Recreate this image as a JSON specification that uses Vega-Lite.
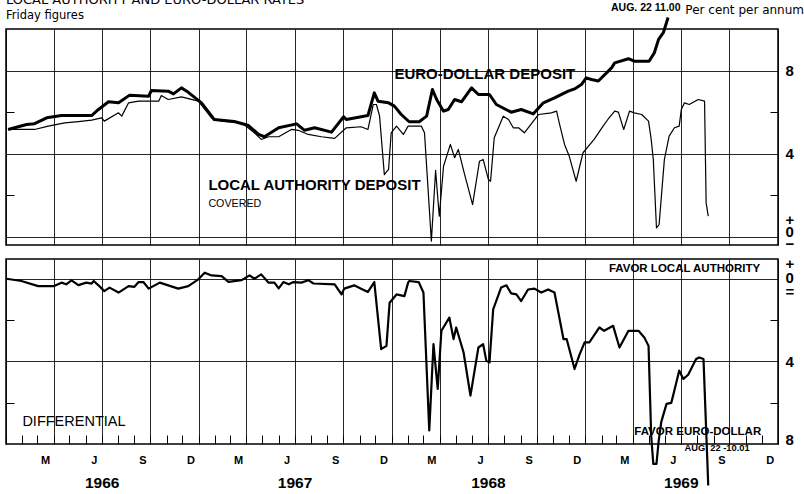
{
  "$schema": "https://vega.github.io/schema/vega-lite/v6.json",
  "background": "white",
  "padding": {"left": 4, "top": -8, "right": 2, "bottom": 0},
  "config": {
    "view": {"stroke": "black", "strokeWidth": 1.5},
    "font": "Liberation Sans",
    "axis": {"labelColor": "black", "tickColor": "black", "gridColor": "black", "domainColor": "black", "titleColor": "black", "gridWidth": 1, "tickWidth": 1},
    "text": {"color": "black"}
  },
  "datasets": {
    "rates": [
      {"date": "1966-01-05", "series": "Euro-dollar deposit", "rate": 5.17},
      {"date": "1966-02-09", "series": "Euro-dollar deposit", "rate": 5.41},
      {"date": "1966-02-24", "series": "Euro-dollar deposit", "rate": 5.45},
      {"date": "1966-03-19", "series": "Euro-dollar deposit", "rate": 5.73},
      {"date": "1966-04-16", "series": "Euro-dollar deposit", "rate": 5.84},
      {"date": "1966-05-18", "series": "Euro-dollar deposit", "rate": 5.84},
      {"date": "1966-06-12", "series": "Euro-dollar deposit", "rate": 5.84},
      {"date": "1966-06-25", "series": "Euro-dollar deposit", "rate": 6.13},
      {"date": "1966-07-14", "series": "Euro-dollar deposit", "rate": 6.5},
      {"date": "1966-08-02", "series": "Euro-dollar deposit", "rate": 6.45},
      {"date": "1966-08-23", "series": "Euro-dollar deposit", "rate": 6.82},
      {"date": "1966-09-28", "series": "Euro-dollar deposit", "rate": 6.77},
      {"date": "1966-10-03", "series": "Euro-dollar deposit", "rate": 7.04},
      {"date": "1966-11-04", "series": "Euro-dollar deposit", "rate": 7.01},
      {"date": "1966-11-14", "series": "Euro-dollar deposit", "rate": 6.88},
      {"date": "1966-11-29", "series": "Euro-dollar deposit", "rate": 7.17},
      {"date": "1966-12-09", "series": "Euro-dollar deposit", "rate": 7.01},
      {"date": "1967-01-06", "series": "Euro-dollar deposit", "rate": 6.45},
      {"date": "1967-01-30", "series": "Euro-dollar deposit", "rate": 5.65},
      {"date": "1967-03-09", "series": "Euro-dollar deposit", "rate": 5.55},
      {"date": "1967-04-05", "series": "Euro-dollar deposit", "rate": 5.36},
      {"date": "1967-04-24", "series": "Euro-dollar deposit", "rate": 4.93},
      {"date": "1967-05-05", "series": "Euro-dollar deposit", "rate": 4.82},
      {"date": "1967-06-01", "series": "Euro-dollar deposit", "rate": 5.25},
      {"date": "1967-07-05", "series": "Euro-dollar deposit", "rate": 5.44},
      {"date": "1967-07-20", "series": "Euro-dollar deposit", "rate": 5.13},
      {"date": "1967-08-08", "series": "Euro-dollar deposit", "rate": 5.25},
      {"date": "1967-09-09", "series": "Euro-dollar deposit", "rate": 5.04},
      {"date": "1967-10-02", "series": "Euro-dollar deposit", "rate": 5.78},
      {"date": "1967-10-07", "series": "Euro-dollar deposit", "rate": 5.65},
      {"date": "1967-11-17", "series": "Euro-dollar deposit", "rate": 5.84},
      {"date": "1967-11-29", "series": "Euro-dollar deposit", "rate": 6.93},
      {"date": "1967-12-06", "series": "Euro-dollar deposit", "rate": 6.53},
      {"date": "1967-12-26", "series": "Euro-dollar deposit", "rate": 6.45},
      {"date": "1968-01-06", "series": "Euro-dollar deposit", "rate": 6.29},
      {"date": "1968-01-19", "series": "Euro-dollar deposit", "rate": 5.89},
      {"date": "1968-02-03", "series": "Euro-dollar deposit", "rate": 5.54},
      {"date": "1968-02-22", "series": "Euro-dollar deposit", "rate": 5.54},
      {"date": "1968-03-07", "series": "Euro-dollar deposit", "rate": 5.81},
      {"date": "1968-03-18", "series": "Euro-dollar deposit", "rate": 7.09},
      {"date": "1968-03-26", "series": "Euro-dollar deposit", "rate": 6.61},
      {"date": "1968-04-08", "series": "Euro-dollar deposit", "rate": 6.05},
      {"date": "1968-04-17", "series": "Euro-dollar deposit", "rate": 6.13},
      {"date": "1968-04-29", "series": "Euro-dollar deposit", "rate": 6.61},
      {"date": "1968-05-12", "series": "Euro-dollar deposit", "rate": 6.5},
      {"date": "1968-05-31", "series": "Euro-dollar deposit", "rate": 7.17},
      {"date": "1968-06-13", "series": "Euro-dollar deposit", "rate": 6.85},
      {"date": "1968-07-04", "series": "Euro-dollar deposit", "rate": 6.85},
      {"date": "1968-07-17", "series": "Euro-dollar deposit", "rate": 6.37},
      {"date": "1968-08-14", "series": "Euro-dollar deposit", "rate": 6.0},
      {"date": "1968-09-02", "series": "Euro-dollar deposit", "rate": 6.13},
      {"date": "1968-09-25", "series": "Euro-dollar deposit", "rate": 5.92},
      {"date": "1968-10-14", "series": "Euro-dollar deposit", "rate": 6.45},
      {"date": "1968-11-04", "series": "Euro-dollar deposit", "rate": 6.69},
      {"date": "1968-11-30", "series": "Euro-dollar deposit", "rate": 7.01},
      {"date": "1968-12-12", "series": "Euro-dollar deposit", "rate": 7.12},
      {"date": "1968-12-25", "series": "Euro-dollar deposit", "rate": 7.33},
      {"date": "1969-01-03", "series": "Euro-dollar deposit", "rate": 7.65},
      {"date": "1969-01-13", "series": "Euro-dollar deposit", "rate": 7.57},
      {"date": "1969-01-26", "series": "Euro-dollar deposit", "rate": 7.5},
      {"date": "1969-02-20", "series": "Euro-dollar deposit", "rate": 8.13},
      {"date": "1969-02-26", "series": "Euro-dollar deposit", "rate": 8.37},
      {"date": "1969-03-24", "series": "Euro-dollar deposit", "rate": 8.57},
      {"date": "1969-04-04", "series": "Euro-dollar deposit", "rate": 8.45},
      {"date": "1969-05-02", "series": "Euro-dollar deposit", "rate": 8.45},
      {"date": "1969-05-12", "series": "Euro-dollar deposit", "rate": 8.86},
      {"date": "1969-05-20", "series": "Euro-dollar deposit", "rate": 9.5},
      {"date": "1969-05-29", "series": "Euro-dollar deposit", "rate": 9.82},
      {"date": "1969-06-07", "series": "Euro-dollar deposit", "rate": 10.55},
      {"date": "1966-01-05", "series": "Local authority deposit, covered", "rate": 5.17},
      {"date": "1966-02-24", "series": "Local authority deposit, covered", "rate": 5.17},
      {"date": "1966-03-22", "series": "Local authority deposit, covered", "rate": 5.33},
      {"date": "1966-04-22", "series": "Local authority deposit, covered", "rate": 5.49},
      {"date": "1966-05-18", "series": "Local authority deposit, covered", "rate": 5.55},
      {"date": "1966-06-12", "series": "Local authority deposit, covered", "rate": 5.62},
      {"date": "1966-07-01", "series": "Local authority deposit, covered", "rate": 5.73},
      {"date": "1966-07-06", "series": "Local authority deposit, covered", "rate": 5.57},
      {"date": "1966-08-02", "series": "Local authority deposit, covered", "rate": 5.97},
      {"date": "1966-08-08", "series": "Local authority deposit, covered", "rate": 5.81},
      {"date": "1966-08-21", "series": "Local authority deposit, covered", "rate": 6.45},
      {"date": "1966-09-09", "series": "Local authority deposit, covered", "rate": 6.53},
      {"date": "1966-10-17", "series": "Local authority deposit, covered", "rate": 6.53},
      {"date": "1966-10-22", "series": "Local authority deposit, covered", "rate": 6.8},
      {"date": "1966-11-04", "series": "Local authority deposit, covered", "rate": 6.61},
      {"date": "1966-11-29", "series": "Local authority deposit, covered", "rate": 6.74},
      {"date": "1966-12-31", "series": "Local authority deposit, covered", "rate": 6.53},
      {"date": "1967-01-25", "series": "Local authority deposit, covered", "rate": 5.73},
      {"date": "1967-02-13", "series": "Local authority deposit, covered", "rate": 5.57},
      {"date": "1967-03-23", "series": "Local authority deposit, covered", "rate": 5.49},
      {"date": "1967-04-16", "series": "Local authority deposit, covered", "rate": 5.01},
      {"date": "1967-04-29", "series": "Local authority deposit, covered", "rate": 4.69},
      {"date": "1967-05-13", "series": "Local authority deposit, covered", "rate": 4.82},
      {"date": "1967-06-01", "series": "Local authority deposit, covered", "rate": 4.82},
      {"date": "1967-06-25", "series": "Local authority deposit, covered", "rate": 5.17},
      {"date": "1967-07-08", "series": "Local authority deposit, covered", "rate": 5.13},
      {"date": "1967-07-27", "series": "Local authority deposit, covered", "rate": 4.93},
      {"date": "1967-08-21", "series": "Local authority deposit, covered", "rate": 4.82},
      {"date": "1967-09-15", "series": "Local authority deposit, covered", "rate": 4.74},
      {"date": "1967-10-07", "series": "Local authority deposit, covered", "rate": 5.25},
      {"date": "1967-11-04", "series": "Local authority deposit, covered", "rate": 5.3},
      {"date": "1967-11-17", "series": "Local authority deposit, covered", "rate": 5.17},
      {"date": "1967-11-27", "series": "Local authority deposit, covered", "rate": 6.37},
      {"date": "1967-12-03", "series": "Local authority deposit, covered", "rate": 6.37},
      {"date": "1967-12-09", "series": "Local authority deposit, covered", "rate": 5.81},
      {"date": "1967-12-18", "series": "Local authority deposit, covered", "rate": 3.0},
      {"date": "1967-12-26", "series": "Local authority deposit, covered", "rate": 3.25},
      {"date": "1967-12-31", "series": "Local authority deposit, covered", "rate": 5.01},
      {"date": "1968-01-10", "series": "Local authority deposit, covered", "rate": 5.33},
      {"date": "1968-01-23", "series": "Local authority deposit, covered", "rate": 4.93},
      {"date": "1968-02-01", "series": "Local authority deposit, covered", "rate": 5.33},
      {"date": "1968-02-26", "series": "Local authority deposit, covered", "rate": 5.33},
      {"date": "1968-03-03", "series": "Local authority deposit, covered", "rate": 5.01},
      {"date": "1968-03-16", "series": "Local authority deposit, covered", "rate": -0.2},
      {"date": "1968-03-24", "series": "Local authority deposit, covered", "rate": 3.2},
      {"date": "1968-03-31", "series": "Local authority deposit, covered", "rate": 1.0},
      {"date": "1968-04-08", "series": "Local authority deposit, covered", "rate": 3.4},
      {"date": "1968-04-21", "series": "Local authority deposit, covered", "rate": 4.45},
      {"date": "1968-04-29", "series": "Local authority deposit, covered", "rate": 3.81},
      {"date": "1968-05-06", "series": "Local authority deposit, covered", "rate": 4.21},
      {"date": "1968-05-17", "series": "Local authority deposit, covered", "rate": 3.09},
      {"date": "1968-06-02", "series": "Local authority deposit, covered", "rate": 1.56},
      {"date": "1968-06-15", "series": "Local authority deposit, covered", "rate": 3.64},
      {"date": "1968-06-22", "series": "Local authority deposit, covered", "rate": 3.73},
      {"date": "1968-07-02", "series": "Local authority deposit, covered", "rate": 2.76},
      {"date": "1968-07-06", "series": "Local authority deposit, covered", "rate": 2.68},
      {"date": "1968-07-13", "series": "Local authority deposit, covered", "rate": 4.77},
      {"date": "1968-07-30", "series": "Local authority deposit, covered", "rate": 5.81},
      {"date": "1968-08-09", "series": "Local authority deposit, covered", "rate": 5.65},
      {"date": "1968-08-18", "series": "Local authority deposit, covered", "rate": 5.25},
      {"date": "1968-08-28", "series": "Local authority deposit, covered", "rate": 5.25},
      {"date": "1968-09-08", "series": "Local authority deposit, covered", "rate": 5.01},
      {"date": "1968-10-05", "series": "Local authority deposit, covered", "rate": 5.89},
      {"date": "1968-10-29", "series": "Local authority deposit, covered", "rate": 5.97},
      {"date": "1968-11-08", "series": "Local authority deposit, covered", "rate": 6.05},
      {"date": "1968-11-13", "series": "Local authority deposit, covered", "rate": 5.49},
      {"date": "1968-11-23", "series": "Local authority deposit, covered", "rate": 4.45},
      {"date": "1968-12-02", "series": "Local authority deposit, covered", "rate": 3.88},
      {"date": "1968-12-15", "series": "Local authority deposit, covered", "rate": 2.68},
      {"date": "1968-12-28", "series": "Local authority deposit, covered", "rate": 4.05},
      {"date": "1969-01-18", "series": "Local authority deposit, covered", "rate": 4.69},
      {"date": "1969-02-04", "series": "Local authority deposit, covered", "rate": 5.33},
      {"date": "1969-02-13", "series": "Local authority deposit, covered", "rate": 5.65},
      {"date": "1969-02-26", "series": "Local authority deposit, covered", "rate": 6.05},
      {"date": "1969-03-05", "series": "Local authority deposit, covered", "rate": 6.0},
      {"date": "1969-03-15", "series": "Local authority deposit, covered", "rate": 5.17},
      {"date": "1969-03-26", "series": "Local authority deposit, covered", "rate": 6.05},
      {"date": "1969-04-04", "series": "Local authority deposit, covered", "rate": 5.97},
      {"date": "1969-04-18", "series": "Local authority deposit, covered", "rate": 5.89},
      {"date": "1969-05-01", "series": "Local authority deposit, covered", "rate": 5.57},
      {"date": "1969-05-06", "series": "Local authority deposit, covered", "rate": 4.69},
      {"date": "1969-05-10", "series": "Local authority deposit, covered", "rate": 3.73},
      {"date": "1969-05-16", "series": "Local authority deposit, covered", "rate": 0.44},
      {"date": "1969-05-21", "series": "Local authority deposit, covered", "rate": 0.6},
      {"date": "1969-05-31", "series": "Local authority deposit, covered", "rate": 3.73},
      {"date": "1969-06-09", "series": "Local authority deposit, covered", "rate": 4.85},
      {"date": "1969-06-19", "series": "Local authority deposit, covered", "rate": 5.25},
      {"date": "1969-06-28", "series": "Local authority deposit, covered", "rate": 5.33},
      {"date": "1969-07-02", "series": "Local authority deposit, covered", "rate": 6.13},
      {"date": "1969-07-08", "series": "Local authority deposit, covered", "rate": 6.45},
      {"date": "1969-07-17", "series": "Local authority deposit, covered", "rate": 6.37},
      {"date": "1969-08-03", "series": "Local authority deposit, covered", "rate": 6.61},
      {"date": "1969-08-15", "series": "Local authority deposit, covered", "rate": 6.53},
      {"date": "1969-08-18", "series": "Local authority deposit, covered", "rate": 1.64},
      {"date": "1969-08-22", "series": "Local authority deposit, covered", "rate": 1.0}
    ],
    "diff": [
      {"date": "1966-01-02", "diff": 0.0},
      {"date": "1966-01-30", "diff": -0.11},
      {"date": "1966-03-03", "diff": -0.36},
      {"date": "1966-04-01", "diff": -0.36},
      {"date": "1966-04-16", "diff": -0.19},
      {"date": "1966-04-25", "diff": -0.27},
      {"date": "1966-05-05", "diff": -0.08},
      {"date": "1966-05-18", "diff": -0.31},
      {"date": "1966-06-02", "diff": -0.19},
      {"date": "1966-06-12", "diff": -0.24},
      {"date": "1966-06-16", "diff": -0.11},
      {"date": "1966-06-25", "diff": -0.32},
      {"date": "1966-07-06", "diff": -0.6},
      {"date": "1966-07-16", "diff": -0.43},
      {"date": "1966-08-02", "diff": -0.67},
      {"date": "1966-08-21", "diff": -0.36},
      {"date": "1966-09-01", "diff": -0.39},
      {"date": "1966-09-09", "diff": -0.16},
      {"date": "1966-09-18", "diff": -0.16},
      {"date": "1966-09-28", "diff": -0.48},
      {"date": "1966-10-19", "diff": -0.19},
      {"date": "1966-11-04", "diff": -0.32},
      {"date": "1966-11-23", "diff": -0.48},
      {"date": "1966-12-12", "diff": -0.36},
      {"date": "1966-12-31", "diff": -0.03},
      {"date": "1967-01-12", "diff": 0.29},
      {"date": "1967-01-25", "diff": 0.16},
      {"date": "1967-02-13", "diff": 0.13},
      {"date": "1967-02-26", "diff": -0.15},
      {"date": "1967-03-23", "diff": -0.07},
      {"date": "1967-04-07", "diff": 0.16},
      {"date": "1967-04-16", "diff": 0.0},
      {"date": "1967-04-29", "diff": 0.21},
      {"date": "1967-05-13", "diff": -0.19},
      {"date": "1967-05-24", "diff": -0.19},
      {"date": "1967-06-01", "diff": -0.47},
      {"date": "1967-06-10", "diff": -0.16},
      {"date": "1967-06-20", "diff": -0.27},
      {"date": "1967-06-29", "diff": -0.16},
      {"date": "1967-07-14", "diff": -0.19},
      {"date": "1967-07-27", "diff": -0.07},
      {"date": "1967-08-06", "diff": -0.23},
      {"date": "1967-09-15", "diff": -0.27},
      {"date": "1967-09-28", "diff": -0.76},
      {"date": "1967-10-03", "diff": -0.48},
      {"date": "1967-10-22", "diff": -0.32},
      {"date": "1967-11-04", "diff": -0.48},
      {"date": "1967-11-17", "diff": -0.64},
      {"date": "1967-11-29", "diff": -0.16},
      {"date": "1967-12-12", "diff": -3.41},
      {"date": "1967-12-22", "diff": -3.25},
      {"date": "1967-12-28", "diff": -1.16},
      {"date": "1968-01-10", "diff": -0.76},
      {"date": "1968-01-25", "diff": -0.84},
      {"date": "1968-02-01", "diff": -0.19},
      {"date": "1968-02-03", "diff": -0.11},
      {"date": "1968-02-21", "diff": -0.16},
      {"date": "1968-03-01", "diff": -0.67},
      {"date": "1968-03-12", "diff": -7.34},
      {"date": "1968-03-20", "diff": -3.17},
      {"date": "1968-03-28", "diff": -5.33},
      {"date": "1968-04-04", "diff": -2.52},
      {"date": "1968-04-19", "diff": -1.88},
      {"date": "1968-04-27", "diff": -2.92},
      {"date": "1968-05-02", "diff": -2.36},
      {"date": "1968-05-16", "diff": -3.57},
      {"date": "1968-05-29", "diff": -5.66},
      {"date": "1968-06-13", "diff": -3.33},
      {"date": "1968-06-22", "diff": -3.17},
      {"date": "1968-06-28", "diff": -3.97},
      {"date": "1968-07-04", "diff": -4.05},
      {"date": "1968-07-11", "diff": -1.48},
      {"date": "1968-07-26", "diff": -0.43},
      {"date": "1968-08-05", "diff": -0.32},
      {"date": "1968-08-14", "diff": -0.71},
      {"date": "1968-08-24", "diff": -0.76},
      {"date": "1968-09-02", "diff": -1.08},
      {"date": "1968-09-15", "diff": -0.52},
      {"date": "1968-09-27", "diff": -0.48},
      {"date": "1968-10-10", "diff": -0.67},
      {"date": "1968-10-23", "diff": -0.52},
      {"date": "1968-11-04", "diff": -0.67},
      {"date": "1968-11-21", "diff": -2.92},
      {"date": "1968-11-27", "diff": -2.92},
      {"date": "1968-12-12", "diff": -4.37},
      {"date": "1968-12-21", "diff": -3.7},
      {"date": "1968-12-31", "diff": -3.08},
      {"date": "1969-01-09", "diff": -3.08},
      {"date": "1969-01-28", "diff": -2.36},
      {"date": "1969-02-06", "diff": -2.52},
      {"date": "1969-02-23", "diff": -2.28},
      {"date": "1969-03-07", "diff": -3.33},
      {"date": "1969-03-24", "diff": -2.52},
      {"date": "1969-04-12", "diff": -2.52},
      {"date": "1969-04-23", "diff": -2.84},
      {"date": "1969-05-01", "diff": -3.25},
      {"date": "1969-05-06", "diff": -7.59},
      {"date": "1969-05-10", "diff": -8.96},
      {"date": "1969-05-16", "diff": -8.96},
      {"date": "1969-05-20", "diff": -7.9},
      {"date": "1969-05-25", "diff": -6.94},
      {"date": "1969-06-04", "diff": -6.06},
      {"date": "1969-06-13", "diff": -6.01},
      {"date": "1969-06-19", "diff": -5.4},
      {"date": "1969-06-28", "diff": -4.45},
      {"date": "1969-07-06", "diff": -4.85},
      {"date": "1969-07-15", "diff": -4.65},
      {"date": "1969-07-30", "diff": -3.89},
      {"date": "1969-08-05", "diff": -3.81},
      {"date": "1969-08-13", "diff": -3.89},
      {"date": "1969-08-22", "diff": -10.01}
    ]
  },
  "spacing": 14,
  "bounds": "flush",
  "vconcat": [
    {
      "width": 772,
      "height": 216,
      "title": {
        "text": "LOCAL AUTHORITY AND EURO-DOLLAR RATES",
        "subtitle": "Friday figures",
        "anchor": "start",
        "frame": "group",
        "font": "DejaVu Sans",
        "fontSize": 13,
        "fontWeight": "normal",
        "subtitleFont": "DejaVu Sans",
        "subtitleFontSize": 11.5,
        "subtitlePadding": 3,
        "color": "black",
        "subtitleColor": "black",
        "offset": 0,
        "dy": 18
      },
      "resolve": {"axis": {"x": "independent", "y": "independent"}},
      "layer": [
        {
          "data": {"name": "rates"},
          "mark": {"type": "line", "clip": false, "color": "black", "strokeJoin": "round"},
          "encoding": {
            "x": {
              "field": "date", "type": "temporal",
              "scale": {"domain": [{"year": 1966, "month": 1, "date": 1}, {"year": 1970, "month": 1, "date": 1}], "nice": false},
              "axis": {"tickCount": {"interval": "month", "step": 3}, "grid": true, "gridOpacity": 0.85, "ticks": false, "labels": false, "domain": false, "title": null}
            },
            "y": {
              "field": "rate", "type": "quantitative",
              "scale": {"domain": [-0.385, 10], "nice": false, "zero": false},
              "axis": {
                "orient": "right",
                "values": [0, 2, 4, 6, 8],
                "labelExpr": "datum.value == 0 ? ['+', '0', '−'] : ((datum.value == 4 || datum.value == 8) ? datum.label : '')",
                "grid": true,
                "gridOpacity": {"condition": {"test": "datum.value == 0 || datum.value == 4 || datum.value == 8", "value": 0.85}, "value": 0},
                "tickSize": -8,
                "tickOpacity": {"condition": {"test": "datum.value == 2 || datum.value == 6", "value": 1}, "value": 0},
                "domain": false,
                "labelFontSize": 15,
                "labelFontWeight": "bold",
                "labelPadding": 15,
                "labelLineHeight": 12,
                "labelOverlap": false,
                "labelOffset": {"condition": {"test": "datum.value == 0", "value": -17}, "value": 0},
                "title": "Per cent per annum",
                "titleAngle": 0,
                "titleAlign": "right",
                "titleBaseline": "alphabetic",
                "titleX": 25.5,
                "titleY": -15.5,
                "titleFont": "DejaVu Sans",
                "titleFontSize": 12,
                "titleFontWeight": "normal"
              }
            },
            "strokeWidth": {
              "field": "series", "type": "nominal",
              "scale": {"domain": ["Euro-dollar deposit", "Local authority deposit, covered"], "range": [3, 1.2]},
              "legend": null
            }
          }
        },
        {
          "data": {"values": [
            {"date": "1968-01-06", "rate": 7.86, "label": "EURO-DOLLAR DEPOSIT"},
            {"date": "1967-01-19", "rate": 2.48, "label": "LOCAL AUTHORITY DEPOSIT"}
          ]},
          "mark": {"type": "text", "align": "left", "baseline": "middle", "fontWeight": "bold", "fontSize": 15, "color": "black"},
          "encoding": {
            "x": {"field": "date", "type": "temporal", "scale": {"domain": [{"year": 1966, "month": 1, "date": 1}, {"year": 1970, "month": 1, "date": 1}], "nice": false}, "axis": null},
            "y": {
              "field": "rate", "type": "quantitative",
              "scale": {"domain": [-0.385, 10], "nice": false, "zero": false},
              "axis": {"orient": "left", "values": [2, 6], "tickSize": -8, "labels": false, "domain": false, "grid": false, "title": null}
            },
            "text": {"field": "label", "type": "nominal"}
          }
        },
        {
          "data": {"values": [
            {"date": "1967-01-19", "rate": 1.61, "label": "COVERED"}
          ]},
          "mark": {"type": "text", "align": "left", "baseline": "middle", "fontSize": 10.7, "color": "black"},
          "encoding": {
            "x": {"field": "date", "type": "temporal", "scale": {"domain": [{"year": 1966, "month": 1, "date": 1}, {"year": 1970, "month": 1, "date": 1}], "nice": false}, "axis": null},
            "y": {"field": "rate", "type": "quantitative", "scale": {"domain": [-0.385, 10], "nice": false, "zero": false}, "axis": null},
            "text": {"field": "label", "type": "nominal"}
          }
        },
        {
          "data": {"values": [
            {"date": "1969-02-19", "rate": 11.0, "label": "AUG. 22  11.00"}
          ]},
          "mark": {"type": "text", "align": "left", "baseline": "middle", "fontWeight": "bold", "fontSize": 10.5, "color": "black"},
          "encoding": {
            "x": {"field": "date", "type": "temporal", "scale": {"domain": [{"year": 1966, "month": 1, "date": 1}, {"year": 1970, "month": 1, "date": 1}], "nice": false}, "axis": null},
            "y": {"field": "rate", "type": "quantitative", "scale": {"domain": [-0.385, 10], "nice": false, "zero": false}, "axis": null},
            "text": {"field": "label", "type": "nominal"}
          }
        }
      ]
    },
    {
      "width": 772,
      "height": 185,
      "resolve": {"axis": {"x": "independent", "y": "independent"}},
      "layer": [
        {
          "data": {"name": "diff"},
          "mark": {"type": "line", "clip": false, "color": "black", "strokeWidth": 2.2, "strokeJoin": "round"},
          "encoding": {
            "x": {
              "field": "date", "type": "temporal",
              "scale": {"domain": [{"year": 1966, "month": 1, "date": 1}, {"year": 1970, "month": 1, "date": 1}], "nice": false},
              "axis": {
                "tickCount": {"interval": "month", "step": 1},
                "grid": true,
                "gridOpacity": {"condition": {"test": "month(datum.value) % 3 == 0", "value": 0.85}, "value": 0},
                "ticks": true,
                "tickSize": -9,
                "domain": false,
                "labelExpr": "month(datum.value) == 2 ? 'M' : month(datum.value) == 5 ? 'J' : month(datum.value) == 8 ? 'S' : month(datum.value) == 11 ? 'D' : ''",
                "labelOffset": 8,
                "labelPadding": 19,
                "labelFontSize": 11,
                "labelFontWeight": "bold",
                "labelOverlap": false,
                "labelFlush": false,
                "labelBound": false,
                "title": null
              }
            },
            "y": {
              "field": "diff", "type": "quantitative",
              "scale": {"domain": [-8, 0.955], "nice": false, "zero": false},
              "axis": {
                "orient": "right",
                "values": [0, -2, -4, -6, -8],
                "labelExpr": "datum.value == 0 ? ['+', '0', '='] : ((datum.value == -4 || datum.value == -8) ? '' + abs(datum.value) : '')",
                "grid": true,
                "gridOpacity": {"condition": {"test": "datum.value == 0 || datum.value == -4", "value": 0.85}, "value": 0},
                "tickSize": -8,
                "tickOpacity": {"condition": {"test": "datum.value == -2 || datum.value == -6", "value": 1}, "value": 0},
                "domain": false,
                "labelFontSize": 15,
                "labelFontWeight": "bold",
                "labelPadding": 15,
                "labelLineHeight": 14,
                "labelOverlap": false,
                "labelOffset": {"condition": [{"test": "datum.value == 0", "value": -15}, {"test": "datum.value == -8", "value": -5}], "value": 0},
                "title": null
              }
            }
          }
        },
        {
          "data": {"values": [
            {"date": "1969-02-15", "diff": 0.45, "label": "FAVOR LOCAL AUTHORITY"},
            {"date": "1969-04-04", "diff": -7.41, "label": "FAVOR EURO-DOLLAR"}
          ]},
          "mark": {"type": "text", "align": "left", "baseline": "middle", "fontWeight": "bold", "fontSize": 11.5, "color": "black"},
          "encoding": {
            "x": {
              "field": "date", "type": "temporal",
              "scale": {"domain": [{"year": 1966, "month": 1, "date": 1}, {"year": 1970, "month": 1, "date": 1}], "nice": false},
              "axis": {
                "orient": "bottom",
                "values": [{"year": 1966, "month": 7, "date": 1}, {"year": 1967, "month": 7, "date": 1}, {"year": 1968, "month": 7, "date": 1}, {"year": 1969, "month": 7, "date": 1}],
                "labelExpr": "timeFormat(datum.value, '%Y')",
                "ticks": false, "domain": false, "grid": false,
                "labelPadding": 31,
                "labelFontSize": 15.5,
                "labelFontWeight": "bold",
                "labelOverlap": false,
                "labelFlush": false,
                "title": null
              }
            },
            "y": {
              "field": "diff", "type": "quantitative",
              "scale": {"domain": [-8, 0.955], "nice": false, "zero": false},
              "axis": {"orient": "left", "values": [-2, -6], "tickSize": -8, "labels": false, "domain": false, "grid": false, "title": null}
            },
            "text": {"field": "label", "type": "nominal"}
          }
        },
        {
          "data": {"values": [
            {"date": "1966-02-01", "diff": -6.93, "label": "DIFFERENTIAL"}
          ]},
          "mark": {"type": "text", "align": "left", "baseline": "middle", "fontSize": 14.5, "color": "black"},
          "encoding": {
            "x": {"field": "date", "type": "temporal", "scale": {"domain": [{"year": 1966, "month": 1, "date": 1}, {"year": 1970, "month": 1, "date": 1}], "nice": false}, "axis": null},
            "y": {"field": "diff", "type": "quantitative", "scale": {"domain": [-8, 0.955], "nice": false, "zero": false}, "axis": null},
            "text": {"field": "label", "type": "nominal"}
          }
        },
        {
          "data": {"values": [
            {"date": "1969-07-08", "diff": -8.18, "label": "AUG. 22  -10.01"}
          ]},
          "mark": {"type": "text", "align": "left", "baseline": "middle", "fontWeight": "bold", "fontSize": 9.3, "color": "black"},
          "encoding": {
            "x": {"field": "date", "type": "temporal", "scale": {"domain": [{"year": 1966, "month": 1, "date": 1}, {"year": 1970, "month": 1, "date": 1}], "nice": false}, "axis": null},
            "y": {"field": "diff", "type": "quantitative", "scale": {"domain": [-8, 0.955], "nice": false, "zero": false}, "axis": null},
            "text": {"field": "label", "type": "nominal"}
          }
        }
      ]
    }
  ]
}
